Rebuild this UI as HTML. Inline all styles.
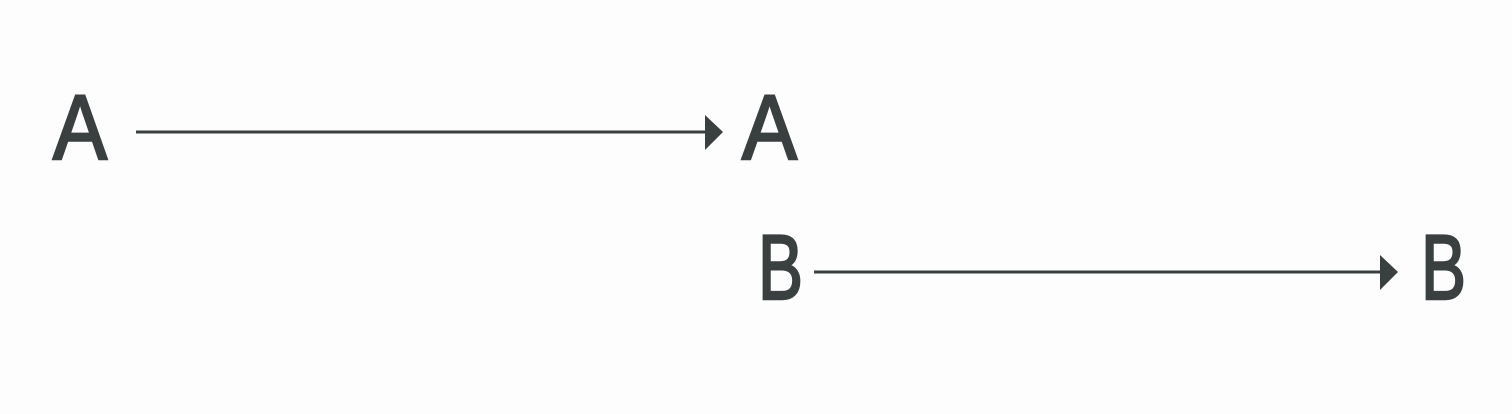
<!DOCTYPE html>
<html><head><meta charset="utf-8"><style>
html,body{margin:0;padding:0;background:#fdfdfd;}
svg{display:block}
text{font-family:"Liberation Sans","DejaVu Sans",sans-serif;fill:#3a3f3f;stroke:#3a3f3f;stroke-width:2.5px;font-size:92px;}
</style></head><body>
<svg width="1512" height="414" viewBox="0 0 1512 414">
<rect x="0" y="0" width="1512" height="414" fill="#fdfdfd"/>
<text x="53" y="159" textLength="54" lengthAdjust="spacingAndGlyphs">A</text>
<line x1="136" y1="132" x2="708" y2="132" stroke="#3a3f3f" stroke-width="3"/>
<polygon points="705,115 723,132 705,150" fill="#3a3f3f"/>
<text x="742" y="159" textLength="55" lengthAdjust="spacingAndGlyphs">A</text>
<text x="758" y="299" textLength="45" lengthAdjust="spacingAndGlyphs">B</text>
<line x1="814" y1="272" x2="1383" y2="272" stroke="#3a3f3f" stroke-width="3"/>
<polygon points="1380,255 1398,272 1380,290" fill="#3a3f3f"/>
<text x="1421" y="299" textLength="45" lengthAdjust="spacingAndGlyphs">B</text>
</svg>
</body></html>
